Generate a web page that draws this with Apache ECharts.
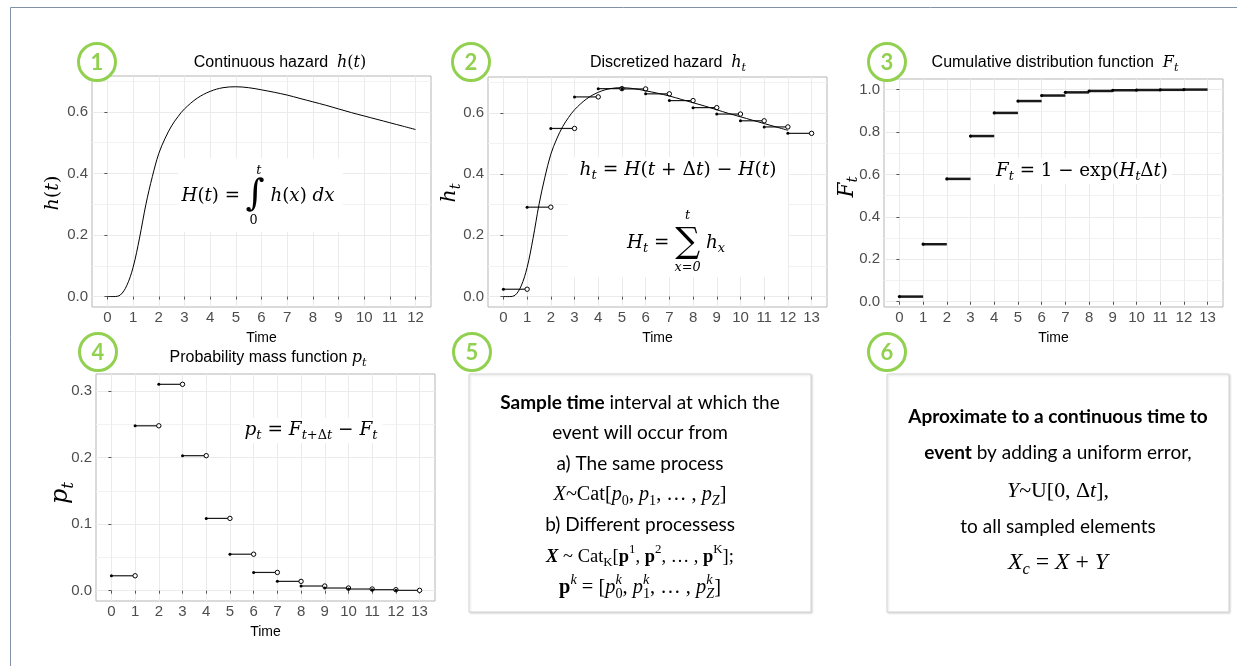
<!DOCTYPE html>
<html>
<head>
<meta charset="utf-8">
<title>Discrete time-to-event sampling</title>
<script src="https://cdn.jsdelivr.net/npm/echarts@6/dist/echarts.min.js"></script>
<style>
html, body { margin: 0; padding: 0; background: #fff; }
#chart { width: 1237px; height: 666px; }
</style>
</head>
<body>
<div id="chart"></div>
<script>
// values
var curveTime = [0, 0.25, 0.5, 0.75, 1, 1.25, 1.5, 1.75, 2, 2.25, 2.5, 2.75, 3, 3.5, 4, 4.5, 5, 5.5, 6, 6.5, 7, 7.5, 8, 8.5, 9, 9.5, 10, 10.5, 11, 11.5, 12];
var curveHazard = [0, 0, 0.005, 0.035, 0.095, 0.19, 0.30, 0.39, 0.465, 0.515, 0.555, 0.585, 0.61, 0.645, 0.667, 0.679, 0.682, 0.679, 0.672, 0.664, 0.655, 0.644, 0.633, 0.622, 0.61, 0.598, 0.587, 0.576, 0.565, 0.554, 0.543];
var stepTime = [0, 1, 2, 3, 4, 5, 6, 7, 8, 9, 10, 11, 12];
var hazardDisc = [0.024, 0.292, 0.549, 0.652, 0.679, 0.678, 0.662, 0.640, 0.617, 0.596, 0.574, 0.554, 0.533];
var cdfValues = [0.024, 0.271, 0.579, 0.781, 0.890, 0.946, 0.972, 0.987, 0.9935, 0.997, 0.998, 0.999, 1.0];
var pmfValues = [0.0224, 0.2477, 0.310, 0.2028, 0.1086, 0.0548, 0.0274, 0.0140, 0.0070, 0.0040, 0.0025, 0.0015, 0.0005];

var xTicksA = [0, 1, 2, 3, 4, 5, 6, 7, 8, 9, 10, 11, 12];
var xTicksB = [0, 1, 2, 3, 4, 5, 6, 7, 8, 9, 10, 11, 12, 13];
var yTicksHazard = [0, 0.2, 0.4, 0.6];
var yMinorHazard = [0.1, 0.3, 0.5, 0.7];
var yTicksCdf = [0, 0.2, 0.4, 0.6, 0.8, 1.0];
var yMinorCdf = [0.1, 0.3, 0.5, 0.7, 0.9];
var yTicksPmf = [0, 0.1, 0.2, 0.3];
var yMinorPmf = [0.05, 0.15, 0.25];

var MATH = "'DejaVu Serif', 'Liberation Serif', serif";
var NARROW = "'Liberation Serif', 'DejaVu Serif', serif";
var SANS = "'Liberation Sans', Arial, sans-serif";
var TEXT = "Lato, 'Open Sans', sans-serif";
var GREEN = '#92d050';

var ctx = document.createElement('canvas').getContext('2d');

// lays out a row of math pieces; pieces run left to right, sub/sup shift, 'over' sits on the previous piece
function layout(size, parts, fam) {
    var kids = [];
    var x = 0, prevX = 0, prevW = 0;
    parts.forEach(function (p) {
        var t = p[0], o = p[1] || {};
        var fs = size * (o.s || ((o.sub || o.sup) ? 0.7 : 1));
        var ff = o.ff || fam || MATH;
        ctx.font = (o.i ? 'italic ' : '') + (o.b ? 'bold ' : '') + fs + 'px ' + ff;
        var w = ctx.measureText(t).width;
        var px;
        if (o.over) px = prevX + prevW / 2 - w / 2 + (o.dx || 0) * size;
        else if (o.stack) px = prevX;
        else px = x + (o.dx || 0) * size;
        var dy = (o.dy != null ? o.dy : (o.sub ? 0.3 : (o.sup ? -0.38 : 0))) * size;
        kids.push({
            type: 'text', x: px, y: dy, z: 50,
            style: {
                text: t, fontSize: fs, fontFamily: ff,
                fontStyle: o.i ? 'italic' : 'normal', fontWeight: o.b ? 'bold' : 'normal',
                fill: o.color || '#000', align: 'left', verticalAlign: 'middle'
            }
        });
        if (o.over) return;
        if (o.stack) { x = Math.max(x, prevX + w); return; }
        prevX = px; prevW = w; x = px + w;
    });
    return { kids: kids, width: x };
}

// centred on (cx, cy); if fit is given the size is scaled so the row is that wide
function formula(cx, cy, size, parts, fit, rot, fam) {
    var r = layout(size, parts, fam);
    if (fit) r = layout(size * fit / r.width, parts, fam);
    r.kids.forEach(function (k) { k.x -= r.width / 2; });
    return { type: 'group', x: cx, y: cy, rotation: rot || 0, z: 50, children: r.kids };
}

function box(x, y, w, h) {
    return { type: 'rect', z: 40, shape: { x: x, y: y, width: w, height: h }, style: { fill: '#fff' } };
}

function badge(cx, cy, label) {
    return {
        type: 'group', x: cx, y: cy, z: 60, children: [
            { type: 'circle', z: 60, shape: { cx: 0, cy: 0, r: 18.5 }, style: { fill: '#fff', stroke: GREEN, lineWidth: 3 } },
            { type: 'text', z: 61, x: 0, y: 1, style: { text: label, fontSize: 22, fontWeight: 'bold', fontFamily: TEXT, fill: GREEN, align: 'center', verticalAlign: 'middle' } }
        ]
    };
}

function textLine(cx, cy, txt, size) {
    return {
        type: 'text', x: cx, y: cy, z: 50,
        style: {
            text: txt, fontSize: size, fontFamily: TEXT, fill: '#000', align: 'center', verticalAlign: 'middle',
            rich: { b: { fontSize: size, fontFamily: TEXT, fontWeight: 'bold', fill: '#000' } }
        }
    };
}

function xAxisFor(grid, min, max, ticks) {
    return {
        type: 'value', gridIndex: grid, min: min, max: max,
        name: 'Time', nameLocation: 'middle', nameGap: 24,
        nameTextStyle: { color: '#000', fontSize: 14, fontFamily: SANS },
        axisLine: { show: false },
        axisTick: { show: true, length: 3, customValues: ticks, lineStyle: { color: '#555' } },
        axisLabel: { customValues: ticks, color: '#4d4d4d', fontSize: 15, fontFamily: SANS, margin: 3 },
        splitLine: { show: true, lineStyle: { color: '#ebebeb', width: 1 } }
    };
}

function yAxisFor(grid, min, max, ticks) {
    return {
        type: 'value', gridIndex: grid, min: min, max: max,
        axisLine: { show: false },
        axisTick: { show: true, length: 3, customValues: ticks, lineStyle: { color: '#555' } },
        axisLabel: { customValues: ticks, color: '#4d4d4d', fontSize: 15, fontFamily: SANS, margin: 4,
            formatter: function (v) { return v.toFixed(1); } },
        splitLine: { show: true, lineStyle: { color: '#ebebeb', width: 1 } }
    };
}

function yMinorFor(grid, min, max, ticks) {
    return {
        type: 'value', gridIndex: grid, min: min, max: max,
        axisLine: { show: false },
        axisTick: { show: false, customValues: ticks },
        axisLabel: { show: false, customValues: ticks },
        splitLine: { show: true, lineStyle: { color: '#f2f2f2', width: 1 } }
    };
}

function stepRenderer(lineWidth, dotR, openEnd) {
    return function (params, api) {
        var a = api.coord([api.value(0), api.value(1)]);
        var b = api.coord([api.value(0) + 1, api.value(1)]);
        var kids = [
            { type: 'line', shape: { x1: a[0], y1: a[1], x2: b[0], y2: b[1] }, style: { stroke: '#1a1a1a', lineWidth: lineWidth } },
            { type: 'circle', shape: { cx: a[0], cy: a[1], r: dotR }, style: { fill: '#000' } }
        ];
        if (openEnd) kids.push({ type: 'circle', shape: { cx: b[0], cy: b[1], r: 2.2 }, style: { fill: '#fff', stroke: '#000', lineWidth: 1 } });
        return { type: 'group', children: kids };
    };
}

function pairs(xs, ys) {
    return xs.map(function (x, i) { return [x, ys[i]]; });
}

var grids = [
    { left: 92, top: 76, width: 339, height: 231 },
    { left: 488, top: 77, width: 339, height: 230 },
    { left: 884, top: 79, width: 339, height: 228 },
    { left: 96, top: 374, width: 339, height: 227 }
].map(function (g) {
    g.show = true; g.borderColor = '#b5b5b5'; g.borderWidth = 1; g.backgroundColor = '#fff';
    return g;
});

var I = { i: true };
var SUB = { i: true, sub: true };

var graphics = [
    // outer frame
    { type: 'line', z: 50, shape: { x1: 10.5, y1: 7.5, x2: 1237, y2: 7.5 }, style: { stroke: '#8290aa', lineWidth: 1 } },
    { type: 'line', z: 50, shape: { x1: 10.5, y1: 7.5, x2: 10.5, y2: 666 }, style: { stroke: '#8290aa', lineWidth: 1 } },

    // titles
    formula(280, 63, 16, [['Continuous hazard  ', { ff: SANS }], ['h', I], ['('], ['t', I], [')']]),
    formula(668, 63, 16, [['Discretized hazard  ', { ff: SANS }], ['h', I], ['t', SUB]]),
    formula(1055, 63, 16, [['Cumulative distribution function  ', { ff: SANS }], ['F', I], ['t', SUB]]),
    formula(268, 358, 16, [['Probability mass function ', { ff: SANS }], ['p', I], ['t', SUB]]),

    // y axis titles
    formula(53, 193, 22, [['h', I], ['('], ['t', I], [')']], 35, Math.PI / 2),
    formula(450, 193, 22, [['h', I], ['t', SUB]], 19, Math.PI / 2),
    formula(847, 187, 22, [['F', I], ['t', SUB]], 21, Math.PI / 2),
    formula(61, 493, 22, [['p', I], ['t', SUB]], 22, Math.PI / 2),

    // formula boxes
    box(178, 158, 165, 74),
    formula(258, 196, 20, [['H', I], ['('], ['t', I], [')'], [' = '], ['\u222B', { s: 2 }],
        ['t', { i: true, over: true, s: 0.7, dy: -1.4, dx: 0.2 }], ['0', { over: true, s: 0.7, dy: 1.35, dx: -0.1 }],
        [' '], ['h', I], ['('], ['x', I], [')'], [' '], ['d', I], ['x', I]], 153),

    box(568, 157, 220, 120),
    formula(678, 170, 20, [['h', I], ['t', SUB], [' = '], ['H', I], ['('], ['t', I], [' + \u0394'], ['t', I], [')'],
        [' \u2212 '], ['H', I], ['('], ['t', I], [')']], 197),
    formula(676, 243, 20, [['H', I], ['t', SUB], [' = '], ['\u2211', { s: 1.9 }],
        ['t', { i: true, over: true, s: 0.7, dy: -1.5 }], ['x=0', { i: true, over: true, s: 0.7, dy: 1.35 }],
        [' '], ['h', I], ['x', SUB]], 98),

    box(993, 158, 179, 26),
    formula(1082, 171, 20, [['F', I], ['t', SUB], [' = 1 \u2212 exp('], ['H', I], ['t', SUB], ['\u0394'], ['t', I], [')']], 172),

    box(240, 418, 143, 25),
    formula(311, 430, 19, [['p', I], ['t', SUB], [' = '], ['F', I], ['t', SUB], ['+\u0394', { sub: true }], ['t', SUB],
        [' \u2212 '], ['F', I], ['t', SUB]], 133),

    // panel 5 and 6 boxes
    { type: 'rect', z: 40, shape: { x: 469, y: 374, width: 342, height: 238 },
      style: { fill: '#fff', stroke: '#d6d6d6', lineWidth: 1, shadowBlur: 2, shadowOffsetX: 1, shadowOffsetY: 1, shadowColor: 'rgba(0,0,0,0.15)' } },
    { type: 'rect', z: 40, shape: { x: 887, y: 374, width: 342, height: 238 },
      style: { fill: '#fff', stroke: '#d6d6d6', lineWidth: 1, shadowBlur: 2, shadowOffsetX: 1, shadowOffsetY: 1, shadowColor: 'rgba(0,0,0,0.15)' } },

    textLine(640, 403, '{b|Sample time} interval at which the', 19),
    textLine(640, 433, 'event will occur from', 19),
    textLine(640, 464, 'a) The same process', 19),
    formula(640, 495, 20, [['X', I], ['~Cat['], ['p', I], ['0', { sub: true }], [', '], ['p', I], ['1', { sub: true }],
        [', \u2026 , '], ['p', I], ['Z', SUB], [']']], 173, 0, NARROW),
    textLine(640, 525, 'b) Different processess', 19),
    formula(640, 557, 20, [['X', { i: true, b: true }], [' ~ Cat'], ['K', { sub: true }], ['['], ['p', { b: true }], ['1', { sup: true }],
        [', '], ['p', { b: true }], ['2', { sup: true }], [', \u2026 , '], ['p', { b: true }], ['K', { sup: true }], ['];']], 188, 0, NARROW),
    formula(640, 588, 20, [['p', { b: true }], ['k', { i: true, sup: true }], [' = ['], ['p', I], ['0', { sub: true }], ['k', { i: true, sup: true, stack: true }],
        [', '], ['p', I], ['1', { sub: true }], ['k', { i: true, sup: true, stack: true }], [', \u2026 , '],
        ['p', I], ['Z', SUB], ['k', { i: true, sup: true, stack: true }], [']']], 162, 0, NARROW),

    textLine(1058, 417, '{b|Aproximate to a continuous time to}', 19),
    textLine(1058, 453, '{b|event} by adding a uniform error,', 19),
    formula(1058, 491, 20, [['Y', I], ['~U[0, \u0394'], ['t', I], ['],']], 102, 0, NARROW),
    textLine(1058, 527, 'to all sampled elements', 19),
    formula(1058, 563, 20, [['X', I], ['c', SUB], [' = '], ['X', I], [' + '], ['Y', I]], 100, 0, NARROW),

    // numbered badges
    badge(97, 62, '1'), badge(471, 62, '2'), badge(887, 62, '3'),
    badge(98, 352, '4'), badge(472, 352, '5'), badge(887, 352, '6')
];

var chart = echarts.init(document.getElementById('chart'), null, { renderer: 'canvas' });
chart.setOption({
    animation: false,
    backgroundColor: '#fff',
    grid: grids,
    xAxis: [
        xAxisFor(0, -0.6, 12.6, xTicksA),
        xAxisFor(1, -0.65, 13.65, xTicksB),
        xAxisFor(2, -0.65, 13.65, xTicksB),
        xAxisFor(3, -0.65, 13.65, xTicksB)
    ],
    yAxis: [
        yAxisFor(0, -0.034, 0.717, yTicksHazard), yMinorFor(0, -0.034, 0.717, yMinorHazard),
        yAxisFor(1, -0.034, 0.717, yTicksHazard), yMinorFor(1, -0.034, 0.717, yMinorHazard),
        yAxisFor(2, -0.025, 1.05, yTicksCdf), yMinorFor(2, -0.025, 1.05, yMinorCdf),
        yAxisFor(3, -0.0155, 0.3255, yTicksPmf), yMinorFor(3, -0.0155, 0.3255, yMinorPmf)
    ],
    series: [
        { type: 'line', xAxisIndex: 0, yAxisIndex: 0, data: pairs(curveTime, curveHazard), showSymbol: false,
          smooth: 0.35, lineStyle: { color: '#000', width: 1 } },
        { type: 'line', xAxisIndex: 1, yAxisIndex: 2, data: pairs(curveTime, curveHazard), showSymbol: false,
          smooth: 0.35, lineStyle: { color: '#000', width: 1 } },
        { type: 'custom', xAxisIndex: 1, yAxisIndex: 2, data: pairs(stepTime, hazardDisc),
          encode: { x: 0, y: 1 }, renderItem: stepRenderer(1.2, 1.5, true) },
        { type: 'custom', xAxisIndex: 2, yAxisIndex: 4, data: pairs(stepTime, cdfValues),
          encode: { x: 0, y: 1 }, renderItem: stepRenderer(2.5, 1.6, false) },
        { type: 'custom', xAxisIndex: 3, yAxisIndex: 6, data: pairs(stepTime, pmfValues),
          encode: { x: 0, y: 1 }, renderItem: stepRenderer(1.2, 1.5, true) }
    ],
    graphic: { elements: graphics }
});
</script>
</body>
</html>
